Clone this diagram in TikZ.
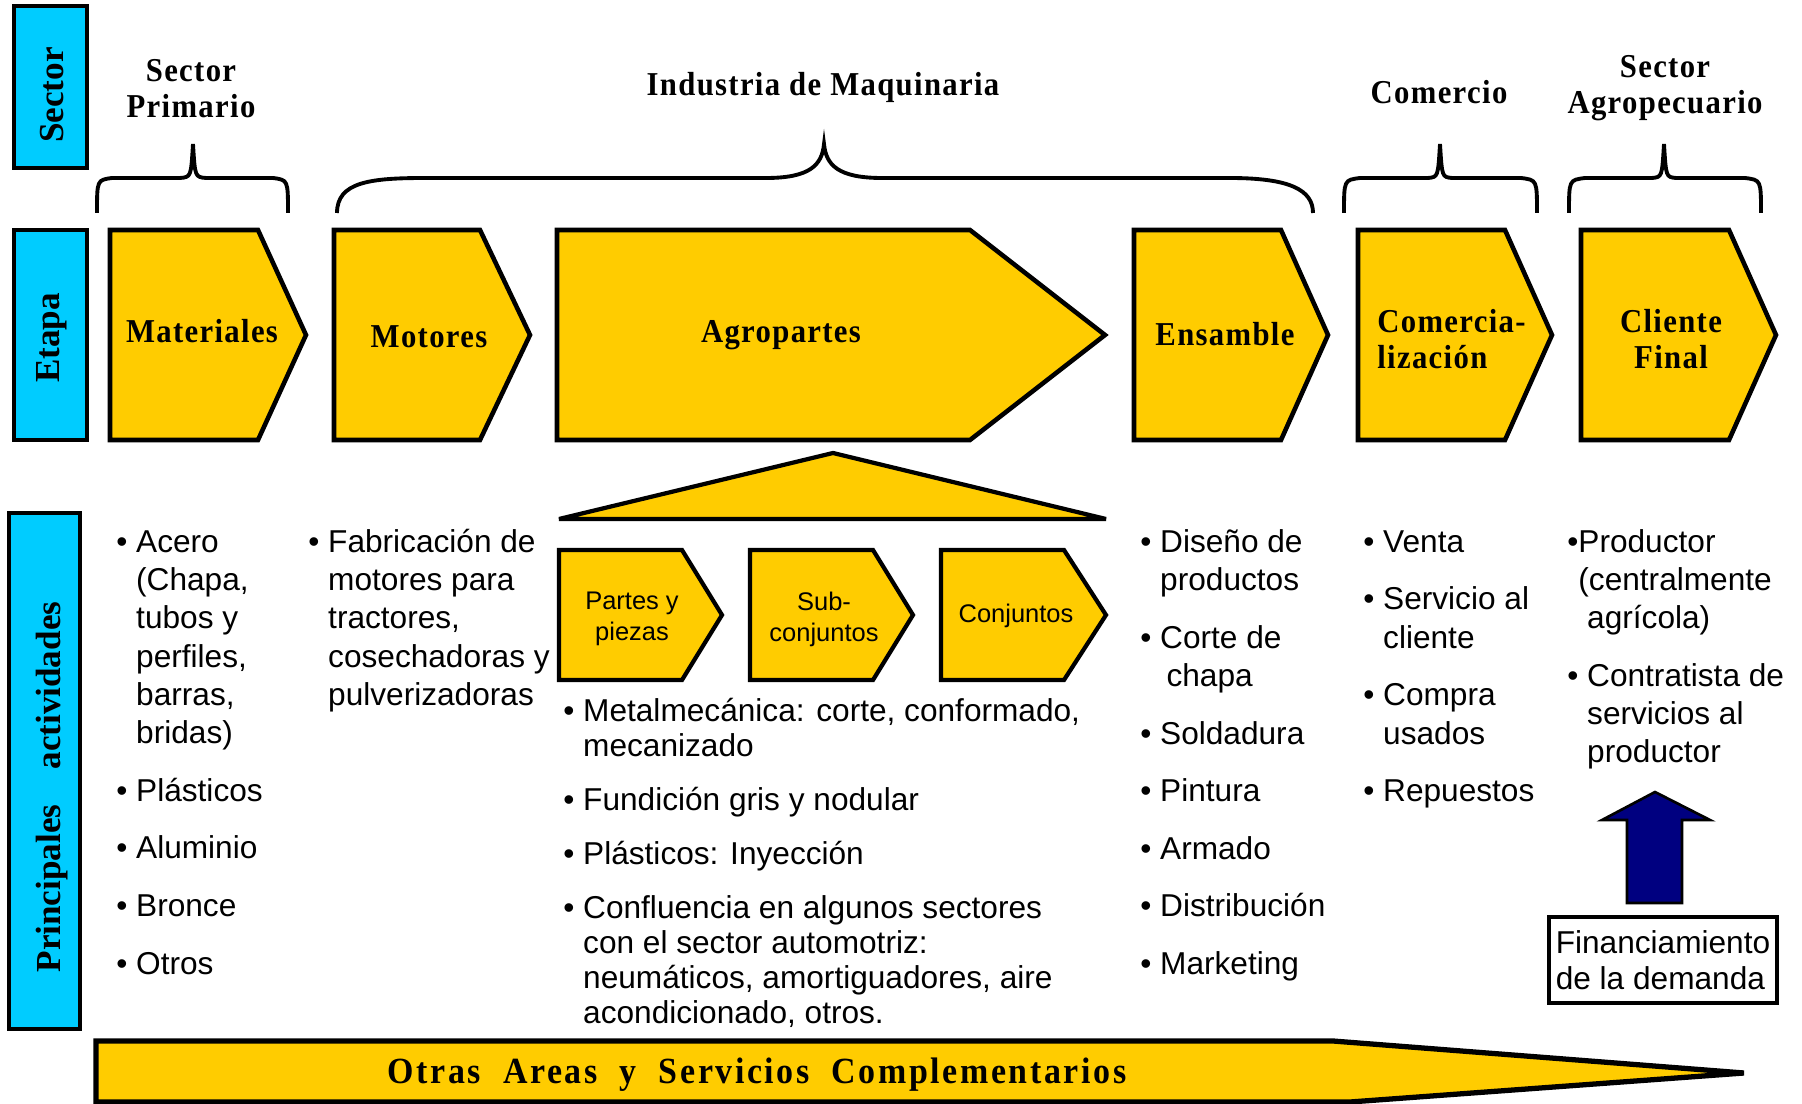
\documentclass[tikz,border=0pt]{standalone}
\usepackage{fontspec}
\setmainfont{Liberation Sans}
\newfontfamily\tnr[LetterSpace=4,FakeStretch=0.92]{Liberation Serif}
\newfontfamily\tnrb[LetterSpace=7,FakeStretch=0.92]{Liberation Serif}
\newfontfamily\tnrv{Liberation Serif}
\usepackage{xcolor}
\definecolor{amarillo}{HTML}{FFCC00}
\definecolor{celeste}{HTML}{00CCFF}
\definecolor{azulosc}{HTML}{000080}
\newcommand{\bul}{\textbullet\ }
\newcommand{\sang}{\hphantom{\textbullet\ }}

\begin{document}
\begin{tikzpicture}[x=0.02cm,y=-0.02cm,
  caja/.style={fill=amarillo,draw=black,line width=2.6pt,line join=miter},
  cajita/.style={fill=amarillo,draw=black,line width=2.4pt,line join=miter},
  azul/.style={fill=celeste,draw=black,line width=2.6pt},
  llave/.style={draw=black,line width=2.2pt},
  etq/.style={font=\tnr\bfseries\fontsize{19}{20.5}\selectfont,inner sep=0pt,align=center},
  vert/.style={font=\tnrv\bfseries\fontsize{20}{24}\selectfont,rotate=90,inner sep=0pt},
  chico/.style={font=\fontsize{14.5}{17.6}\selectfont,inner sep=0pt,align=center},
  lista/.style={font=\fontsize{18}{21.8}\selectfont,anchor=north west,inner sep=0pt,align=left},
  ]
\useasboundingbox (0,0) rectangle (1802,1104);

\draw[azul] (14,6) rectangle (87,168);
\draw[azul] (14,230) rectangle (87,440);
\draw[azul] (9,513) rectangle (80,1029);
\node[vert] (sec) at (52,95) {Sector};
\node[vert] (eta) at (52,338) {Etapa};
\node[vert] (pri) at (52,787) {Principales\hspace{0.7cm}actividades};

\draw[llave] (97,213) .. controls (97,180) .. (112,178) -- (180,178) .. controls (191,177) .. (193,144) .. controls (195,177) .. (206,178) -- (273,178) .. controls (288,180) .. (288,213);
\draw[llave] (337,213) .. controls (337,182) and (370,178) .. (425,178) -- (766,178) .. controls (810,178) and (822,165) .. (824,144) .. controls (826,165) and (838,178) .. (882,178) -- (1230,178) .. controls (1290,178) and (1313,190) .. (1313,213);
\draw[llave] (1344,213) .. controls (1344,180) .. (1360,178) -- (1428,178) .. controls (1438,177) .. (1440,144) .. controls (1442,177) .. (1452,178) -- (1521,178) .. controls (1537,180) .. (1537,213);
\draw[llave] (1569,213) .. controls (1569,180) .. (1585,178) -- (1652,178) .. controls (1662,177) .. (1664,144) .. controls (1666,177) .. (1676,178) -- (1745,178) .. controls (1761,180) .. (1761,213);
\node[etq] (sp) at (191,89) {Sector\\Primario};
\node[etq] (ind) at (823,87) {Industria de Maquinaria};
\node[etq] (com) at (1439,92) {Comercio};
\node[etq] (sag) at (1665,88) {Sector\\Agropecuario};

\draw[caja] (110,230) -- (258,230) -- (306,335) -- (258,440) -- (110,440) -- cycle;
\draw[caja] (334,230) -- (480,230) -- (530,335) -- (480,440) -- (334,440) -- cycle;
\draw[caja] (557,230) -- (970,230) -- (1105,335) -- (970,440) -- (557,440) -- cycle;
\draw[caja] (1134,230) -- (1281,230) -- (1328,335) -- (1281,440) -- (1134,440) -- cycle;
\draw[caja] (1358,230) -- (1505,230) -- (1552,335) -- (1505,440) -- (1358,440) -- cycle;
\draw[caja] (1581,230) -- (1729,230) -- (1776,335) -- (1729,440) -- (1581,440) -- cycle;
\node[etq] (mat) at (202,331) {Materiales};
\node[etq] (mot) at (429,337) {Motores};
\node[etq] (agr) at (781,335) {Agropartes};
\node[etq] (ens) at (1225,334) {Ensamble};
\node[etq,anchor=west,align=left] (cmz) at (1377,339) {Comercia-\\lización};
\node[etq] (cli) at (1671,339) {Cliente\\Final};

\draw[cajita,line join=bevel] (559,519) -- (833,453) -- (1106,519) -- cycle;
\draw[cajita] (559,550) -- (682,550) -- (722,615) -- (682,680) -- (559,680) -- cycle;
\draw[cajita] (750,550) -- (873,550) -- (913,615) -- (873,680) -- (750,680) -- cycle;
\draw[cajita] (941,550) -- (1064,550) -- (1106,615) -- (1064,680) -- (941,680) -- cycle;
\node[chico] (pp) at (632,619) {Partes y\\piezas};
\node[chico] (sc) at (824,619) {Sub-\\conjuntos};
\node[chico] (cj) at (1016,616) {Conjuntos};

\node[lista] (lmat) at (116,525) {\strut\bul Acero\\\sang(Chapa,\\\sang tubos y\\\sang perfiles,\\\sang barras,\\\sang bridas)\\[11pt]\bul Plásticos\\[11pt]\bul Aluminio\\[11pt]\bul Bronce\\[11pt]\bul Otros};
\node[lista] (lmot) at (308,525) {\strut\bul Fabricación de\\\sang motores para\\\sang tractores,\\\sang cosechadoras y\\\sang pulverizadoras};
\node[lista,font=\fontsize{18}{19.9}\selectfont] (lagr) at (563,697) {\strut\bul Metalmecánica: corte, conformado,\\\sang mecanizado\\[10.8pt]\bul Fundición gris y nodular\\[10.8pt]\bul Plásticos: Inyección\\[10.8pt]\bul Confluencia en algunos sectores\\\sang con el sector automotriz:\\\sang neumáticos, amortiguadores, aire\\\sang acondicionado, otros.};
\node[lista] (lens) at (1140,525) {\strut\bul Diseño de\\\sang productos\\[11pt]\bul Corte de\\\sang\hspace{0.2em}chapa\\[11pt]\bul Soldadura\\[11pt]\bul Pintura\\[11pt]\bul Armado\\[11pt]\bul Distribución\\[11pt]\bul Marketing};
\node[lista] (lcom) at (1363,525) {\strut\bul Venta\\[11pt]\bul Servicio al\\\sang cliente\\[11pt]\bul Compra\\\sang usados\\[11pt]\bul Repuestos};
\node[lista] (lcli) at (1567,525) {\strut\textbullet Productor\\\hphantom{\textbullet}(centralmente\\\sang agrícola)\\[11pt]\bul Contratista de\\\sang servicios al\\\sang productor};

\node[draw=black,line width=2.4pt,fill=white,minimum width=4.56cm,minimum height=1.72cm,inner sep=1pt,align=left,font=\fontsize{18}{20.5}\selectfont] (fin) at (1663,960) {Financiamiento\\de la demanda};
\draw[fill=azulosc,draw=black,line width=1.5pt] (1627,903) -- (1627,820) -- (1602,820) -- (1655,792) -- (1710,820) -- (1682,820) -- (1682,903) -- cycle;

\draw[fill=amarillo,draw=black,line width=3pt,line join=miter] (96,1041) -- (1333,1041) -- (1744,1073) -- (1350,1102) -- (96,1102) -- cycle;
\node[font=\tnrb\bfseries\fontsize{21}{24}\selectfont,anchor=base,inner sep=0pt] (otr) at (757,1083) {Otras\ \ Areas\ \ y\ \ Servicios\ \ Complementarios};
\end{tikzpicture}
\end{document}
